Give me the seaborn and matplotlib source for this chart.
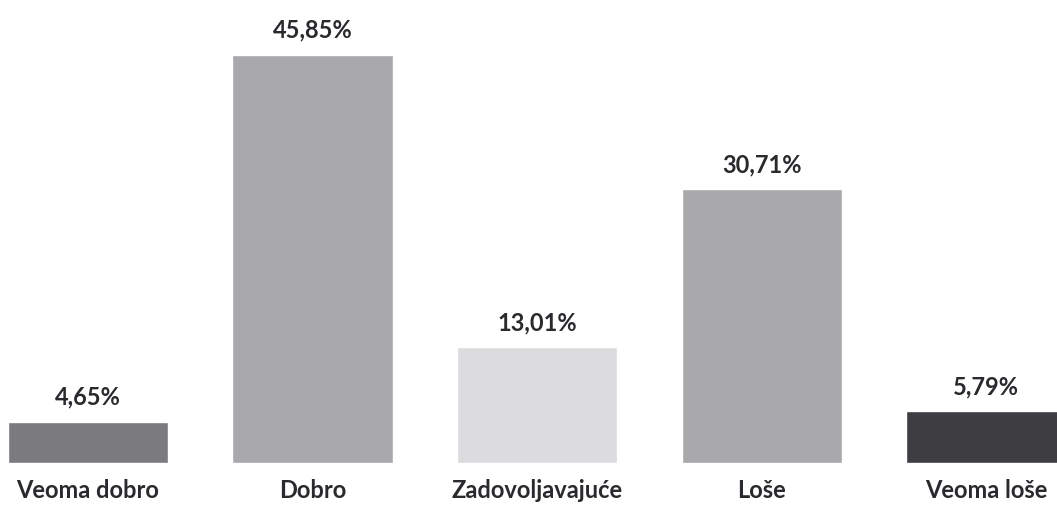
import matplotlib
matplotlib.use("Agg")
import matplotlib.pyplot as plt
import seaborn as sns
import pandas as pd

categories = ["Veoma dobro", "Dobro", "Zadovoljavajuće", "Loše", "Veoma loše"]
percent = [4.65, 45.85, 13.01, 30.71, 5.79]
bar_colors = ["#7b7b7d", "#a9a9ac", "#dcdcdf", "#a9a9ac", "#3e3e42"]

df = pd.DataFrame({"kategorija": categories, "procenat": percent})

sns.set_style("white")
plt.rcParams["font.family"] = ["Lato", "DejaVu Sans"]

fig = plt.figure(figsize=(10.57, 5.06), dpi=100)
ax = fig.add_axes([0, 42 / 506, 1, 464 / 506])

sns.barplot(data=df, x="kategorija", y="procenat", hue="kategorija",
            palette=bar_colors, legend=False, width=0.713, saturation=1,
            ax=ax)

labels = [f"{v:.2f}%".replace(".", ",") for v in percent]
for cont, lab in zip(ax.containers, labels):
    ax.bar_label(cont, labels=[lab], padding=10, fontsize=17,
                 fontweight="bold", color="#2a2a2e")

ax.set_xlim(-0.392, 4.316)
ax.set_ylim(0, 52.1)
ax.set_xlabel("")
ax.set_ylabel("")
ax.set_yticks([])
ax.tick_params(axis="x", length=0, pad=11, labelsize=17, labelcolor="#2a2a2e")
for t in ax.get_xticklabels():
    t.set_fontweight("bold")
sns.despine(ax=ax, left=True, bottom=True)

fig.savefig("out.png", dpi=100)
